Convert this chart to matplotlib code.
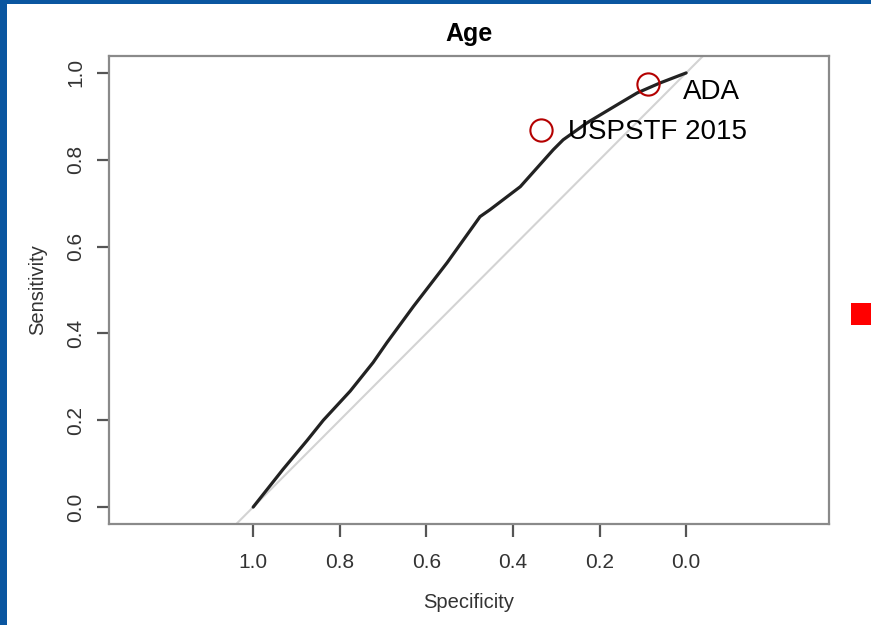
import numpy as np
import matplotlib
matplotlib.use("Agg")
import matplotlib.pyplot as plt
from matplotlib.patches import Rectangle

plt.rcParams["font.family"] = ["Liberation Sans", "DejaVu Sans"]

# ROC curve for age (specificity runs right-to-left as in pROC)
specificity = [1.0, 0.931, 0.875, 0.838, 0.776, 0.723, 0.691, 0.630, 0.552,
               0.476, 0.453, 0.383, 0.307, 0.284, 0.229, 0.152, 0.113, 0.060, 0.0]
sensitivity = [0.0, 0.087, 0.154, 0.200, 0.267, 0.333, 0.379, 0.462, 0.563,
               0.669, 0.685, 0.738, 0.823, 0.846, 0.885, 0.931, 0.954, 0.977, 1.0]

# screening guideline operating points
guide_names = ["ADA", "USPSTF 2015"]
guide_spec = [0.088, 0.335]
guide_sens = [0.975, 0.869]
label_spec = [0.007, 0.273]
label_sens = [0.955, 0.864]

BORDER_BLUE = "#0a56a0"
AXIS_GREY = "#8a8a8a"
TEXT_GREY = "#333333"

fig = plt.figure(figsize=(8.71, 6.25), dpi=100, facecolor="white")

# slide frame: blue strips on the left and top, red marker on the right
fig.patches.append(Rectangle((0, 0), 7 / 871, 1, transform=fig.transFigure,
                             facecolor=BORDER_BLUE, edgecolor="none", zorder=0))
fig.patches.append(Rectangle((0, 1 - 4 / 625), 1, 4 / 625, transform=fig.transFigure,
                             facecolor=BORDER_BLUE, edgecolor="none", zorder=0))
fig.patches.append(Rectangle((851 / 871, 1 - 325 / 625), 20 / 871, 22 / 625,
                             transform=fig.transFigure, facecolor="#ff0000",
                             edgecolor="none", zorder=0))

ax = fig.add_axes([109 / 871, 101 / 625, 720 / 871, 468 / 625])
ax.set_xlim(1.333, -0.330)
ax.set_ylim(-0.039, 1.039)

# chance diagonal
ax.axline((1, 0), (0, 1), color="#d3d3d3", lw=1.5, zorder=1)
ax.plot(specificity, sensitivity, color="#222222", lw=2.3,
        solid_capstyle="round", solid_joinstyle="round", zorder=2)

ax.plot(guide_spec, guide_sens, linestyle="none", marker="o", ms=16,
        mfc="none", mec="#b40000", mew=1.5, zorder=3)
for name, xs, ys in zip(guide_names, label_spec, label_sens):
    ax.text(xs, ys, name, ha="left", va="center", fontsize=20, color="black", zorder=4)

ax.set_xticks([1.0, 0.8, 0.6, 0.4, 0.2, 0.0])
ax.set_yticks([0.0, 0.2, 0.4, 0.6, 0.8, 1.0])
ax.set_xticklabels(["1.0", "0.8", "0.6", "0.4", "0.2", "0.0"])
ax.set_yticklabels(["0.0", "0.2", "0.4", "0.6", "0.8", "1.0"], rotation=90, va="center")

for spine in ax.spines.values():
    spine.set_color(AXIS_GREY)
    spine.set_linewidth(1.6)
ax.tick_params(length=9, width=1.6, color="#555555", labelsize=15,
               labelcolor=TEXT_GREY)
ax.tick_params(axis="x", pad=12)
ax.tick_params(axis="y", pad=8)

ax.set_xlabel("Specificity", fontsize=14.5, color=TEXT_GREY, labelpad=15)
ax.set_ylabel("Sensitivity", fontsize=14.5, color=TEXT_GREY, labelpad=14)
ax.set_title("Age", fontsize=18, fontweight="bold", pad=11)

fig.savefig("out.png", dpi=100, facecolor="white")
